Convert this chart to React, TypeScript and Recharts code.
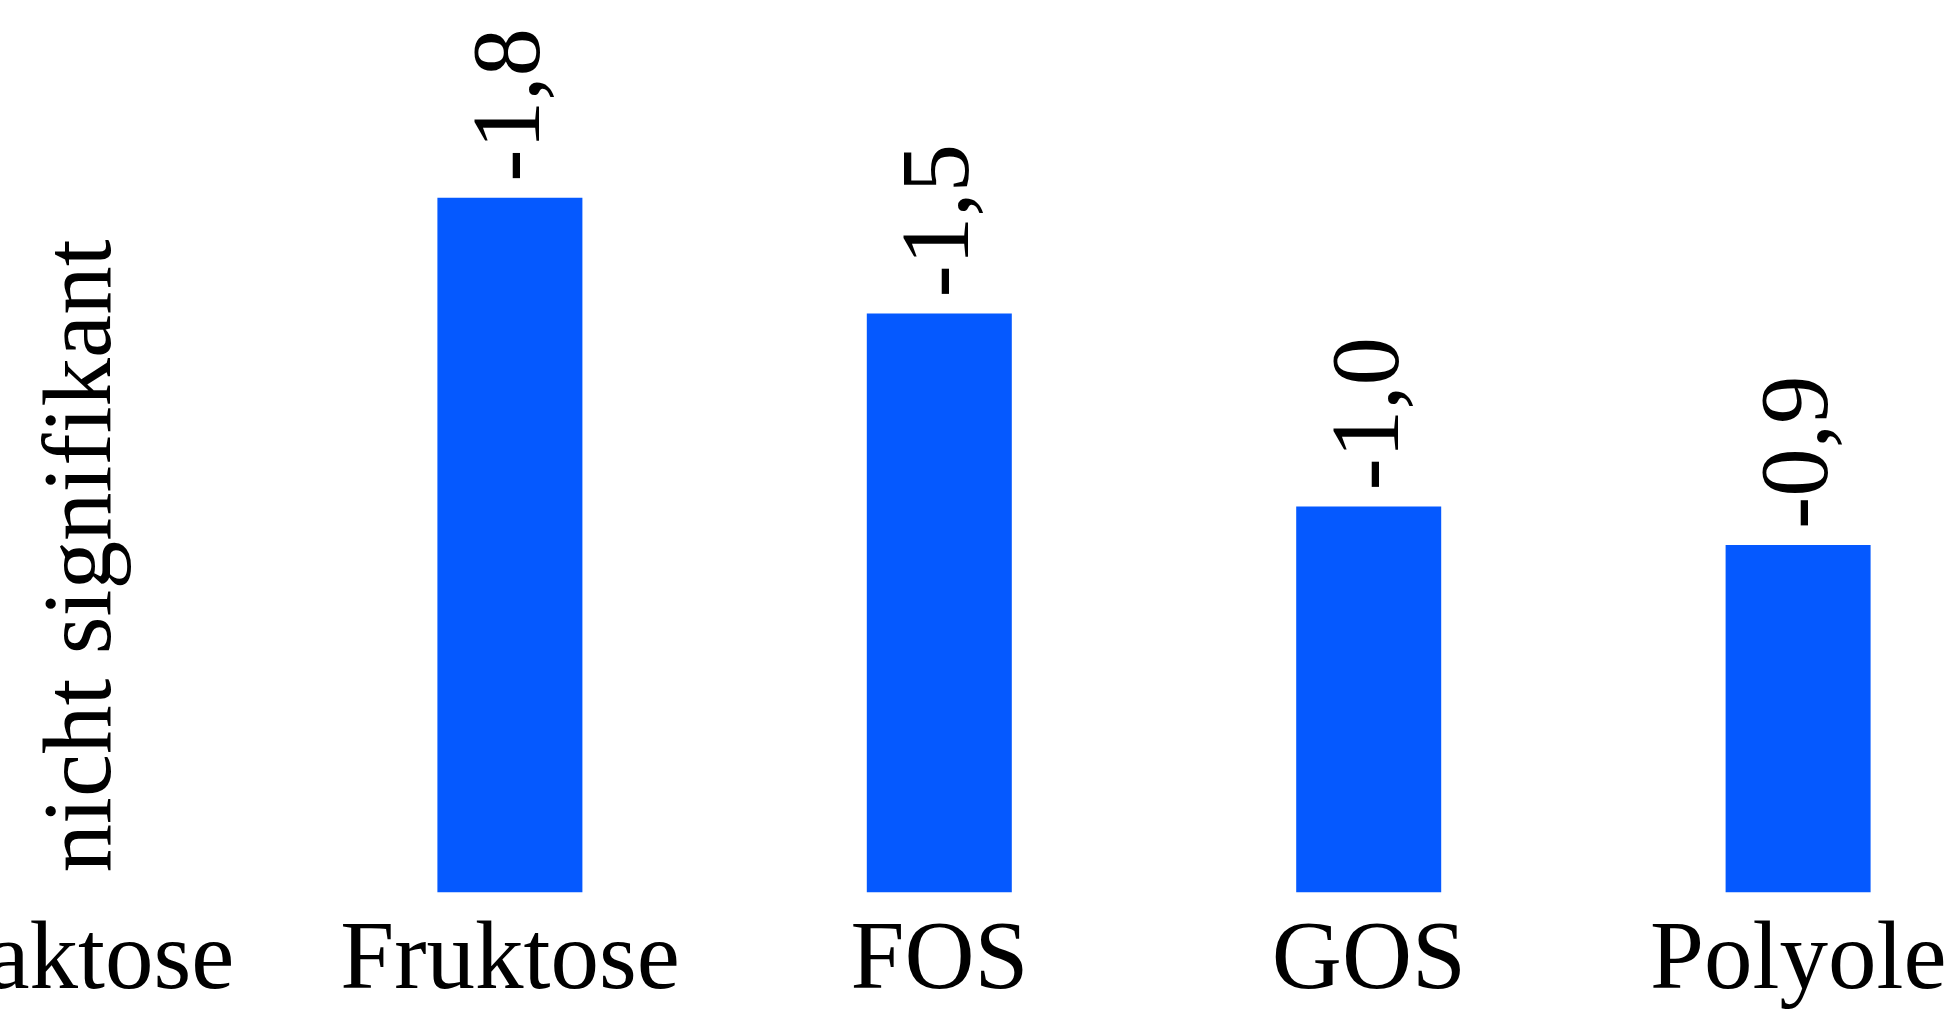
import React from 'react';
import { BarChart, Bar, XAxis, YAxis, LabelList } from 'recharts';

const categories: string[] = ['Laktose', 'Fruktose', 'FOS', 'GOS', 'Polyole'];
const values: (number | null)[] = [null, -1.8, -1.5, -1.0, -0.9];
const notSignificantText = 'nicht signifikant';

const formatValue = (v: number) => v.toFixed(1).replace('.', ',');

const data = categories.map((name, i) => {
  const v = values[i];
  return {
    name,
    value: v == null ? 0 : v,
    significant: v != null,
    label: v == null ? notSignificantText : formatValue(v),
  };
});

const FONT = "'Liberation Serif', 'Times New Roman', serif";
const FONT_SIZE = 97;
const BAR_COLOR = '#0559ff';
const LABEL_DX = 29;
const LABEL_GAP = 16;

const RotatedText = ({ x, y, children }: { x: number; y: number; children: React.ReactNode }) => (
  <text
    x={x}
    y={y}
    transform={`rotate(-90, ${x}, ${y})`}
    textAnchor="start"
    fontFamily={FONT}
    fontSize={FONT_SIZE}
    fill="#000"
  >
    {children}
  </text>
);

const renderLabel = (props: any) => {
  const { x, y, width, height, value } = props;
  if (value === notSignificantText) return null;
  const cx = Number(x) + Number(width) / 2;
  const top = Math.min(Number(y), Number(y) + Number(height));
  return (
    <RotatedText x={cx + LABEL_DX} y={top - LABEL_GAP}>
      {value}
    </RotatedText>
  );
};

const renderTick = (props: any) => {
  const { x, y, payload } = props;
  const entry = data.find((d) => d.name === payload.value);
  return (
    <g>
      <text
        x={x}
        y={Number(y) + 95.5}
        textAnchor="middle"
        fontFamily={FONT}
        fontSize={FONT_SIZE}
        fill="#000"
      >
        {payload.value}
      </text>
      {entry && !entry.significant ? (
        <RotatedText x={Number(x) + LABEL_DX} y={Number(y) - LABEL_GAP - 4}>
          {entry.label}
        </RotatedText>
      ) : null}
    </g>
  );
};

export default function App() {
  return (
    <div
      style={{
        position: 'fixed',
        left: 0,
        top: 0,
        width: 1960,
        height: 1009,
        overflow: 'hidden',
        background: '#ffffff',
      }}
    >
      <div style={{ position: 'absolute', left: -134.25, top: 0 }}>
        <BarChart
          width={2147}
          height={1009}
          data={data}
          margin={{ top: 0, right: 0, bottom: 0, left: 0 }}
        >
          <XAxis
            dataKey="name"
            axisLine={false}
            tickLine={false}
            tickSize={0}
            tickMargin={0}
            height={116.5}
            interval={0}
            tick={renderTick}
          />
          <YAxis
            hide
            type="number"
            domain={[-2.312, 0]}
            allowDataOverflow
            reversed
          />
          <Bar dataKey="value" fill={BAR_COLOR} barSize={145} isAnimationActive={false}>
            <LabelList dataKey="label" content={renderLabel} />
          </Bar>
        </BarChart>
      </div>
    </div>
  );
}
